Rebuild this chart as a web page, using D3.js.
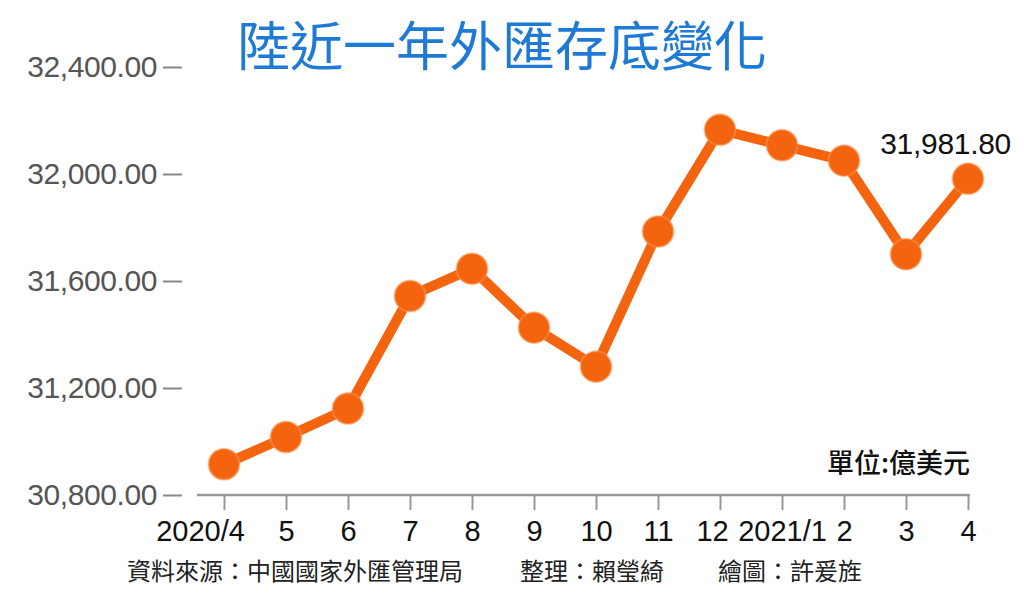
<!DOCTYPE html>
<html>
<head>
<meta charset="utf-8">
<script src="https://cdn.jsdelivr.net/npm/d3@7"></script>
<style>
  body { margin: 0; background: #fff; }
  svg { display: block; }
</style>
</head>
<body>
<div id="chart"></div>
<script>
// data (億美元)
var months = ["2020/4", "5", "6", "7", "8", "9", "10", "11", "12", "2021/1", "2", "3", "4"];
var reserves = [30914.64, 31016.92, 31123.28, 31543.91, 31646.09, 31425.62, 31279.85,
                31784.90, 32165.22, 32107.25, 32049.93, 31700.25, 31981.80];
var yTicks = [30800, 31200, 31600, 32000, 32400];

var titleText = "陸近一年外匯存底變化";
var unitText = "單位:億美元";
var footerParts = ["資料來源：中國國家外匯管理局", "整理：賴瑩綺", "繪圖：許爰旌"];

var svgWidth = 1024, svgHeight = 602;
var orange = "#f4640f";
var numFont = "'Liberation Sans', Arial, sans-serif";
var cjkFont = "'Noto Sans CJK TC', 'Noto Sans CJK SC', sans-serif";

var svg = d3.select("#chart").append("svg")
    .attr("width", svgWidth)
    .attr("height", svgHeight);

var x = d3.scalePoint().domain(months).range([224, 968]);
var y = d3.scaleLinear().domain([30800, 32400]).range([495, 67]);

// title
svg.append("text")
    .attr("x", 502)
    .attr("y", 66)
    .attr("text-anchor", "middle")
    .attr("font-family", cjkFont)
    .attr("font-size", 53)
    .attr("font-weight", 400)
    .attr("fill", "#1f7ad6")
    .text(titleText);

// y axis (ticks + labels only)
var yAxis = svg.append("g")
    .attr("transform", "translate(182,0)")
    .call(d3.axisLeft(y).tickValues(yTicks).tickSize(19).tickPadding(6)
        .tickFormat(d3.format(",.2f")));
yAxis.select(".domain").remove();
yAxis.selectAll(".tick line").attr("stroke", "#888").attr("stroke-width", 2);
yAxis.selectAll(".tick text")
    .attr("font-family", numFont)
    .attr("font-size", 30)
    .attr("letter-spacing", -0.4)
    .attr("fill", "#555");

// x axis
var xAxis = svg.append("g")
    .attr("transform", "translate(0,495)")
    .call(d3.axisBottom(x).tickSize(15).tickPadding(10));
xAxis.select(".domain").remove();
xAxis.append("line")
    .attr("x1", 197).attr("x2", 970)
    .attr("stroke", "#999").attr("stroke-width", 2.5);
xAxis.selectAll(".tick line").attr("stroke", "#999").attr("stroke-width", 2);
xAxis.selectAll(".tick text")
    .attr("font-family", numFont)
    .attr("font-size", 29)
    .attr("fill", "#111")
    .attr("dx", function (d, i) { return i === 0 ? -24 : (d === "12" ? -8 : 0); });

// line + dots
var line = d3.line()
    .x(function (d, i) { return x(months[i]); })
    .y(function (d) { return y(d); });

svg.append("path")
    .datum(reserves)
    .attr("d", line)
    .attr("fill", "none")
    .attr("stroke", orange)
    .attr("stroke-width", 10)
    .attr("stroke-linejoin", "round");

svg.selectAll(".dot")
    .data(reserves)
    .enter().append("circle")
    .attr("class", "dot")
    .attr("cx", function (d, i) { return x(months[i]); })
    .attr("cy", function (d) { return y(d); })
    .attr("r", 15.5)
    .attr("fill", orange)
    .attr("stroke", "#f89a5a")
    .attr("stroke-opacity", 0.5)
    .attr("stroke-width", 2);

// label on last value
var lastIdx = reserves.length - 1;
svg.append("text")
    .attr("x", x(months[lastIdx]) + 43)
    .attr("y", y(reserves[lastIdx]) - 25)
    .attr("text-anchor", "end")
    .attr("font-family", numFont)
    .attr("font-size", 30)
    .attr("letter-spacing", -0.3)
    .attr("fill", "#111")
    .text(d3.format(",.2f")(reserves[lastIdx]));

// unit
svg.append("text")
    .attr("x", 970)
    .attr("y", 473)
    .attr("text-anchor", "end")
    .attr("font-family", cjkFont)
    .attr("font-size", 27)
    .attr("font-weight", 500)
    .attr("fill", "#111")
    .text(unitText);

// footer
var footerX = [127, 520, 718];
svg.selectAll(".footer")
    .data(footerParts)
    .enter().append("text")
    .attr("class", "footer")
    .attr("x", function (d, i) { return footerX[i]; })
    .attr("y", 580)
    .attr("font-family", cjkFont)
    .attr("font-size", 24)
    .attr("fill", "#222")
    .text(function (d) { return d; });
</script>
</body>
</html>
